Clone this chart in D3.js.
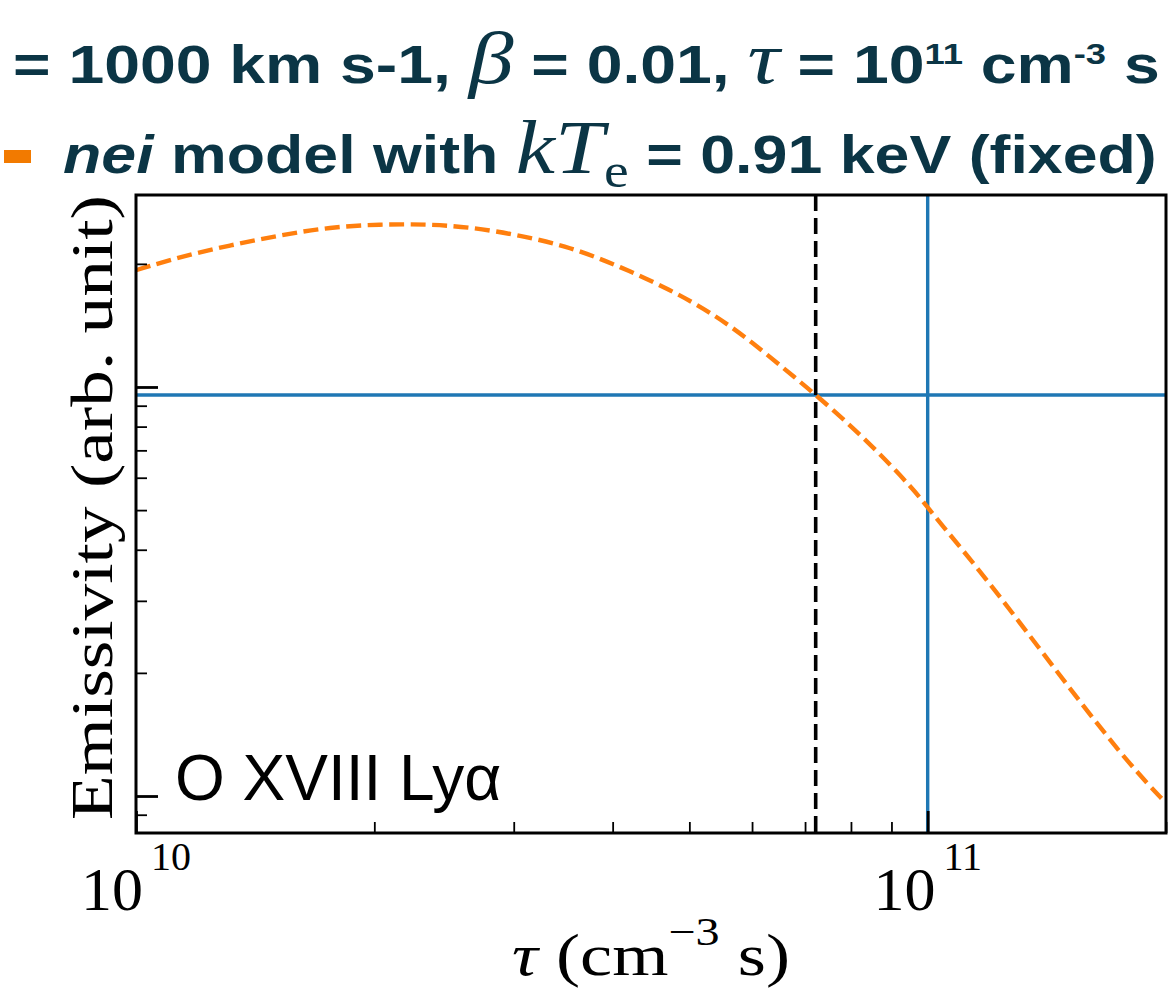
<!DOCTYPE html>
<html>
<head>
<meta charset="utf-8">
<script src="https://cdn.jsdelivr.net/npm/d3@7"></script>
<style>
  html, body { margin: 0; padding: 0; background: #fff; }
  svg { display: block; }
</style>
</head>
<body>
<div class="chart"></div>
<script>
"use strict";

// curve: tau (cm^-3 s) vs emissivity (arb. unit)
const tauValues = [1.0e10, 1.137e10, 1.314e10, 1.52e10, 1.758e10, 2.033e10, 2.331e10, 2.642e10,
                   3.055e10, 3.533e10, 4.087e10, 4.727e10, 5.357e10, 5.965e10, 6.898e10, 7.225e10,
                   8.381e10, 9.69e10, 1.0e11, 1.165e11, 1.347e11, 1.557e11, 1.801e11, 2.0e11];
const emissivity = [19.3, 20.8, 22.2, 23.5, 24.6, 25.0, 25.0, 24.6,
                    23.5, 22.0, 19.7, 17.3, 15.1, 13.0, 10.3, 9.56,
                    7.42, 5.51, 5.06, 3.55, 2.46, 1.70, 1.19, 0.961];

const tauDomain = [1e10, 2e11];
const emisDomain = [0.812, 29.47];
const tauMarker = 7.22e10;      // dashed vertical
const tauReference = 1e11;      // blue vertical
const emisReference = 9.56;     // blue horizontal

const xMajorTicks = [1e10, 1e11];
const xMajorExp = ["10", "11"];
const xMinorTicks = [2e10, 3e10, 4e10, 5e10, 6e10, 7e10, 8e10, 9e10, 2e11];
const yMajorTicks = [1, 10];
const yMinorTicks = [0.9, 2, 3, 4, 5, 6, 7, 8, 9, 20];

const W = 1173, H = 988;
const margin = { left: 136, right: 7, top: 195, bottom: 155 };

const svg = d3.select(".chart").append("svg")
    .attr("width", W)
    .attr("height", H);

const x = d3.scaleLog().domain(tauDomain).range([margin.left, W - margin.right]);
const y = d3.scaleLog().domain(emisDomain).range([H - margin.bottom, margin.top]);

const titleColor = "#0b3545";
const sans = "'Liberation Sans', Arial, Helvetica, sans-serif";
const serif = "'Liberation Serif', 'DejaVu Serif', serif";

// squeeze a text element horizontally into [x0, x1]
function fitText (sel, x0, x1) {
    const b = sel.node().getBBox();
    const s = (x1 - x0) / b.width;
    sel.attr("transform", `translate(${x0},0) scale(${s},1) translate(${-b.x},0)`);
}

function mathSpan (sel, txt, size) {
    return sel.append("tspan")
        .attr("font-family", serif)
        .attr("font-style", "italic")
        .attr("font-weight", "normal")
        .attr("font-size", size)
        .text(txt);
}

// --- title lines ---
const t1 = svg.append("text")
    .attr("y", 83)
    .attr("fill", titleColor)
    .attr("font-family", sans)
    .attr("font-weight", "bold")
    .attr("font-size", 53);
t1.append("tspan").text("= 1000 km s-1, ");
mathSpan(t1, "β", 74);
t1.append("tspan").text(" = 0.01, ");
mathSpan(t1, "τ", 74);
t1.append("tspan").text(" = 10");
t1.append("tspan").attr("font-size", 30).attr("dy", -19).text("11");
t1.append("tspan").attr("dy", 19).text(" cm");
t1.append("tspan").attr("font-size", 30).attr("dy", -19).text("-3");
t1.append("tspan").attr("dy", 19).text(" s");
fitText(t1, 13, 1160);

svg.append("rect")
    .attr("x", 4).attr("y", 150)
    .attr("width", 27).attr("height", 13)
    .attr("fill", "#f27a00");

const t2 = svg.append("text")
    .attr("y", 173)
    .attr("fill", titleColor)
    .attr("font-family", sans)
    .attr("font-weight", "bold")
    .attr("font-size", 54);
t2.append("tspan").attr("font-style", "italic").text("nei");
t2.append("tspan").text(" model with ");
mathSpan(t2, "kT", 76);
t2.append("tspan").attr("font-family", serif).attr("font-weight", "normal").attr("font-size", 48).attr("dy", 14).text("e");
t2.append("tspan").attr("dy", -14).text(" = 0.91 keV (fixed)");
fitText(t2, 63, 1157);

// --- plot area ---
const plotW = W - margin.left - margin.right;
const plotH = H - margin.top - margin.bottom;

svg.append("defs").append("clipPath").attr("id", "plotclip")
  .append("rect")
    .attr("x", margin.left).attr("y", margin.top)
    .attr("width", plotW).attr("height", plotH);

const plot = svg.append("g").attr("clip-path", "url(#plotclip)");

// reference lines
plot.append("line")
    .attr("x1", margin.left).attr("x2", W - margin.right)
    .attr("y1", y(emisReference)).attr("y2", y(emisReference))
    .attr("stroke", "#1f77b4").attr("stroke-width", 3.4);
plot.append("line")
    .attr("x1", x(tauReference)).attr("x2", x(tauReference))
    .attr("y1", margin.top).attr("y2", H - margin.bottom)
    .attr("stroke", "#1f77b4").attr("stroke-width", 3.4);
plot.append("line")
    .attr("x1", x(tauMarker)).attr("x2", x(tauMarker))
    .attr("y1", margin.top).attr("y2", H - margin.bottom)
    .attr("stroke", "#000").attr("stroke-width", 3.6)
    .attr("stroke-dasharray", "16,7");

// nei curve
const pts = tauValues.map((t, i) => [t, emissivity[i]]);
const line = d3.line()
    .x(d => x(d[0]))
    .y(d => y(d[1]))
    .curve(d3.curveBasis);
plot.append("path")
    .attr("fill", "none")
    .attr("stroke", "#ff7f0e")
    .attr("stroke-width", 4.4)
    .attr("stroke-dasharray", "15,6.5")
    .attr("d", line(pts));

// --- axes ---
const xMinorAxis = d3.axisBottom(x).tickValues(xMinorTicks).tickSizeInner(-11).tickSizeOuter(0).tickFormat("");
const xMajorAxis = d3.axisBottom(x).tickValues(xMajorTicks).tickSizeInner(-22).tickSizeOuter(0).tickFormat("");
const yMinorAxis = d3.axisLeft(y).tickValues(yMinorTicks).tickSizeInner(-11).tickSizeOuter(0).tickFormat("");
const yMajorAxis = d3.axisLeft(y).tickValues(yMajorTicks).tickSizeInner(-22).tickSizeOuter(0).tickFormat("");

function drawAxis (axis, transform, width) {
    const g = svg.append("g").attr("transform", transform).call(axis);
    g.select(".domain").remove();
    g.selectAll(".tick line").attr("stroke", "#000").attr("stroke-width", width);
    return g;
}
drawAxis(xMinorAxis, `translate(0,${H - margin.bottom})`, 1.8);
drawAxis(xMajorAxis, `translate(0,${H - margin.bottom})`, 2.8);
drawAxis(yMinorAxis, `translate(${margin.left},0)`, 1.8);
drawAxis(yMajorAxis, `translate(${margin.left},0)`, 2.8);

// frame
svg.append("rect")
    .attr("x", margin.left).attr("y", margin.top)
    .attr("width", plotW).attr("height", plotH)
    .attr("fill", "none").attr("stroke", "#000").attr("stroke-width", 3);

// x tick labels 10^n
xMajorTicks.forEach((t, i) => {
    const lbl = svg.append("text")
        .attr("y", 910)
        .attr("font-family", serif)
        .attr("font-size", 62)
        .attr("fill", "#000");
    lbl.append("tspan").text("10");
    lbl.append("tspan").attr("font-size", 40).attr("dx", 8).attr("dy", -40).text(xMajorExp[i]);
    const b = lbl.node().getBBox();
    lbl.attr("x", x(t) - b.width / 2);
});

// x axis label
const xl = svg.append("text")
    .attr("y", 975)
    .attr("font-family", serif)
    .attr("font-size", 60)
    .attr("fill", "#000");
xl.append("tspan").attr("font-style", "italic").text("τ");
xl.append("tspan").text(" (cm");
xl.append("tspan").attr("font-size", 40).attr("dy", -30).text("−3");
xl.append("tspan").attr("dy", 30).text(" s)");
fitText(xl, 512, 790);

// y axis label
svg.append("text")
    .attr("transform", `translate(112,${(margin.top + 820) / 2}) rotate(-90)`)
    .attr("text-anchor", "middle")
    .attr("font-family", serif)
    .attr("font-size", 60)
    .attr("fill", "#000")
    .attr("textLength", 625)
    .attr("lengthAdjust", "spacingAndGlyphs")
    .text("Emissivity (arb. unit)");

// line annotation
svg.append("text")
    .attr("x", 175)
    .attr("y", 800)
    .attr("font-family", sans)
    .attr("font-size", 64)
    .attr("fill", "#000")
    .text("O XVIII Lyα");
</script>
</body>
</html>
